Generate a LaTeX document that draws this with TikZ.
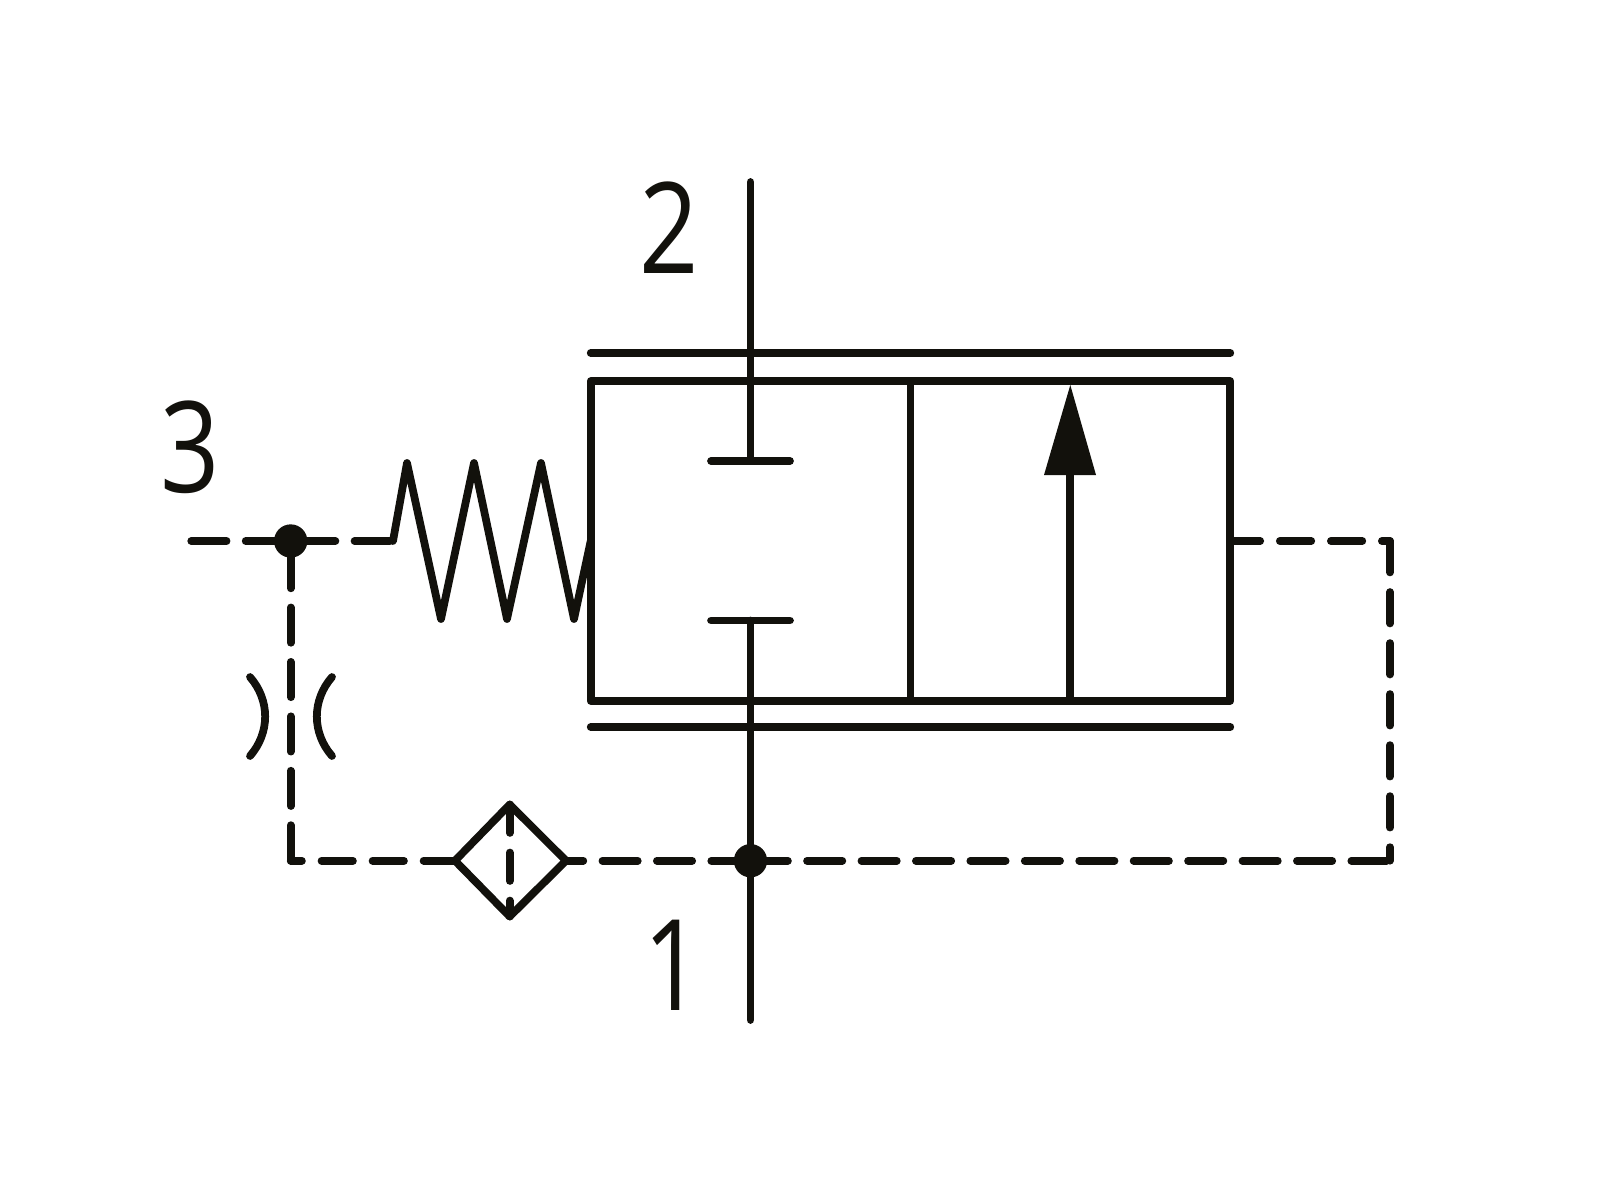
\documentclass[tikz,border=0pt]{standalone}
\usepackage{fontspec}
\newfontfamily\portfont[FakeStretch=0.82]{Open Sans}
\definecolor{ink}{HTML}{12110C}

\begin{document}
\begin{tikzpicture}[x=0.01cm,y=0.01cm]
\tikzstyle{every node}+=[inner sep=0pt]
\tikzstyle{solid line}=[ink, line width=2.2pt, line cap=round, line join=round]
\tikzstyle{pilot}=[solid line, dash pattern=on 0.353cm off 0.191cm]
\tikzstyle{pilot short}=[solid line, dash pattern=on 0.314cm off 0.196cm]
\tikzstyle{pilot inner}=[solid line, dash pattern=on 0.284cm off 0.196cm]
\tikzstyle{junction}=[circle, fill=ink, minimum size=0.333cm]
\tikzstyle{port}=[ink, font=\portfont\fontsize{36}{36}\selectfont]
\useasboundingbox (0,0) rectangle (1600,-1200);
\node [port] (labeltwo) at (669,-228) {2};
\node [port] (labelthree) at (190,-447) {3};
\node [port] (labelone) at (673,-965) {1};
\node [junction] (dotthree) at (290.7,-541) {};
\node [junction] (dotone) at (750.5,-860.7) {};
\coordinate (boxnw) at (590.7,-381);
\coordinate (boxse) at (1230.3,-701);
\coordinate (midtop) at (910.5,-381);
\coordinate (midbot) at (910.5,-701);
\coordinate (boxout) at (1230.3,-541);
\coordinate (topl) at (590.7,-353);
\coordinate (topr) at (1230.3,-353);
\coordinate (botl) at (590.7,-727);
\coordinate (botr) at (1230.3,-727);
\coordinate (porttwo) at (750.5,-182);
\coordinate (portone) at (750.5,-1020);
\coordinate (stoptop) at (750.5,-461);
\coordinate (stopbot) at (750.5,-620.5);
\coordinate (stoptopl) at (711,-461);
\coordinate (stoptopr) at (790,-461);
\coordinate (stopbotl) at (711,-620.5);
\coordinate (stopbotr) at (790,-620.5);
\coordinate (arrowfoot) at (1070.3,-701);
\coordinate (arrowbase) at (1070.3,-475);
\coordinate (arrowtip) at (1070.3,-385);
\coordinate (arrowl) at (1044,-475);
\coordinate (arrowr) at (1096,-475);
\coordinate (portthree) at (191.25,-541);
\coordinate (springin) at (393,-541);
\coordinate (cornerne) at (1390,-541);
\coordinate (cornerse) at (1390,-860.7);
\coordinate (cornersw) at (290.7,-860.7);
\coordinate (filterl) at (455,-860.7);
\coordinate (filterr) at (566,-860.7);
\coordinate (filtert) at (509.7,-804.5);
\coordinate (filterb) at (509.7,-916.5);
\coordinate (orificela) at (250,-677);
\coordinate (orificelb) at (250,-756);
\coordinate (orificera) at (332,-677);
\coordinate (orificerb) at (332,-756);
\draw [solid line] (boxnw) rectangle (boxse);
\draw [solid line] (midtop) -- (midbot);
\draw [solid line] (topl) -- (topr);
\draw [solid line] (botl) -- (botr);
\draw [solid line] (porttwo) -- (stoptop);
\draw [solid line] (stoptopl) -- (stoptopr);
\draw [solid line] (portone) -- (stopbot);
\draw [solid line] (stopbotl) -- (stopbotr);
\draw [solid line] (arrowfoot) -- (arrowbase);
\fill [ink] (arrowtip) -- (arrowr) -- (arrowl) -- cycle;
\draw [solid line] (springin) -- (407,-463) -- (441,-619) -- (474,-463) -- (507,-619) -- (541,-463) -- (574,-619) -- (590.7,-541);
\draw [solid line] (filterl) -- (filtert) -- (filterr) -- (filterb) -- cycle;
\draw [pilot inner] (filtert) -- (filterb);
\draw [solid line] (orificela) to [bend left=41] (orificelb);
\draw [solid line] (orificera) to [bend right=41] (orificerb);
\draw [pilot] (portthree) -- (dotthree.center) -- (springin);
\draw [pilot, dash phase=0.424cm] (dotthree.center) -- (cornersw);
\draw [pilot short] (filterl) -- (cornersw);
\draw [pilot, dash phase=0.18cm] (filterr) -- (dotone.center);
\draw [pilot, dash phase=0.5105cm] (cornerse) -- (dotone.center);
\draw [pilot short, dash phase=0.015cm] (boxout) -- (cornerne);
\draw [pilot short] (cornerne) -- (cornerse);
\end{tikzpicture}
\end{document}
